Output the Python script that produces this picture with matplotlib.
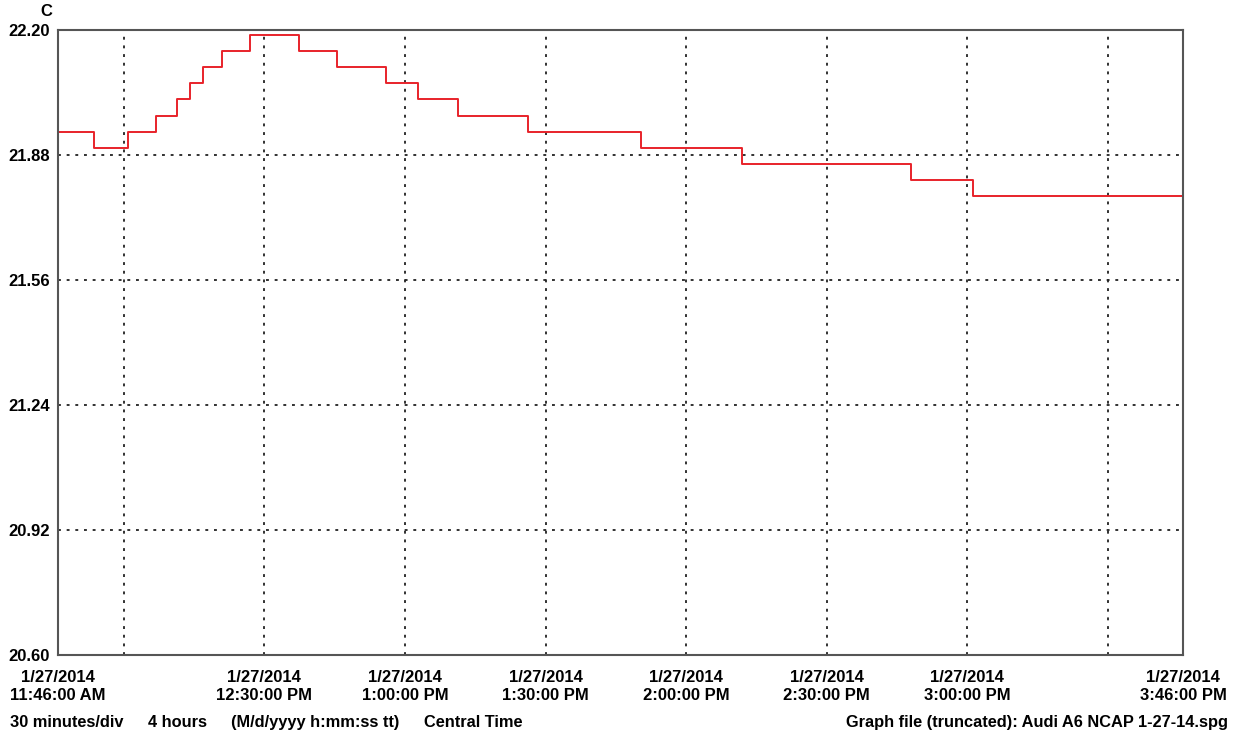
import datetime as dt
import matplotlib
matplotlib.use("Agg")
import matplotlib.pyplot as plt

# step changes of the logged temperature (clock time, deg C)
times = ["11:46:00", "11:53:42", "12:00:54", "12:06:54", "12:11:24", "12:14:12",
         "12:16:54", "12:21:00", "12:27:00", "12:37:24", "12:45:30", "12:56:00",
         "13:02:48", "13:11:18", "13:26:18", "13:50:24", "14:11:54", "14:48:00",
         "15:01:12", "15:46:00"]
temps = [21.939, 21.898, 21.939, 21.980, 22.023, 22.064, 22.105, 22.146, 22.187,
         22.146, 22.105, 22.064, 22.023, 21.980, 21.939, 21.898, 21.857, 21.816,
         21.775, 21.775]

xtick_times = ["11:46:00", "12:30:00", "13:00:00", "13:30:00", "14:00:00",
               "14:30:00", "15:00:00", "15:46:00"]
xtick_labels = ["1/27/2014\n11:46:00 AM", "1/27/2014\n12:30:00 PM", "1/27/2014\n1:00:00 PM",
                "1/27/2014\n1:30:00 PM", "1/27/2014\n2:00:00 PM", "1/27/2014\n2:30:00 PM",
                "1/27/2014\n3:00:00 PM", "1/27/2014\n3:46:00 PM"]
grid_times = ["12:00:00", "12:30:00", "13:00:00", "13:30:00", "14:00:00",
              "14:30:00", "15:00:00", "15:30:00"]
yticks = [20.60, 20.92, 21.24, 21.56, 21.88, 22.20]

day = "2014-01-27 "
def to_dt(s):
    return dt.datetime.strptime(day + s, "%Y-%m-%d %H:%M:%S")

x = [to_dt(t) for t in times]

plt.rcParams['font.family'] = ['Liberation Sans', 'DejaVu Sans']
plt.rcParams['font.weight'] = 'bold'

fig = plt.figure(figsize=(12.39, 7.38), dpi=100)
ax = fig.add_axes([58/1239, 1 - 655/738, (1183 - 58)/1239, (655 - 30)/738])

ax.plot(x, temps, drawstyle='steps-post', color='#e8222a', lw=1.4, zorder=3)

# vertical grid every 30 minutes (on the half hours, not on the labels)
dots = (0, (1.6, 3.2))
for g in grid_times:
    ax.axvline(to_dt(g), color='#222222', linestyle=dots, lw=1.3, zorder=2)

ax.set_xlim(to_dt(xtick_times[0]), to_dt(xtick_times[-1]))
ax.set_ylim(yticks[0], yticks[-1])

ax.set_xticks([to_dt(t) for t in xtick_times])
ax.set_xticklabels(xtick_labels, fontsize=12, fontweight='bold', linespacing=1.2)
ax.set_yticks(yticks)
ax.set_yticklabels(["%.2f" % v for v in yticks], fontsize=12, fontweight='bold')

ax.tick_params(axis='both', which='both', length=0)
ax.tick_params(axis='x', pad=11)
ax.tick_params(axis='y', pad=6)

ax.grid(False)
ax.grid(which='major', axis='y', color='#222222', linestyle=dots, lw=1.3)

for s in ax.spines.values():
    s.set_color('#555555')
    s.set_linewidth(1.5)
    s.set_zorder(4)

fig.text(46/1239, 1 - 12/738, "C", fontsize=12, fontweight='bold', ha='center', va='center')

foot_y = 1 - 727/738
fs = 11.8
fig.text(10/1239, foot_y, "30 minutes/div", fontsize=fs, fontweight='bold', va='baseline')
fig.text(148/1239, foot_y, "4 hours", fontsize=fs, fontweight='bold', va='baseline')
fig.text(231/1239, foot_y, "(M/d/yyyy h:mm:ss tt)", fontsize=fs, fontweight='bold', va='baseline')
fig.text(424/1239, foot_y, "Central Time", fontsize=fs, fontweight='bold', va='baseline')
fig.text(1228/1239, foot_y, "Graph file (truncated): Audi A6 NCAP 1-27-14.spg",
         fontsize=fs, fontweight='bold', ha='right', va='baseline')

fig.savefig("out.png", dpi=100)
plt.close(fig)
